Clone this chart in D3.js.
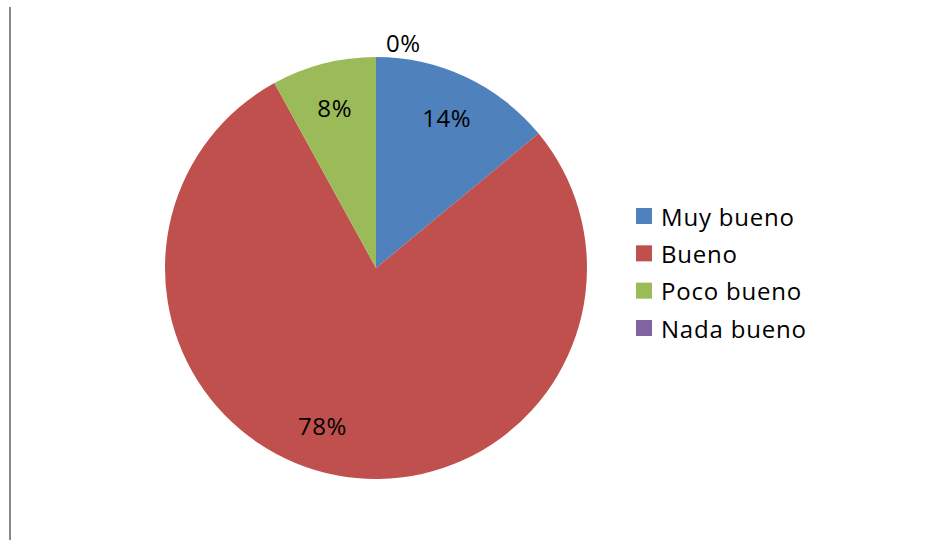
<!DOCTYPE html>
<html>
<head>
<meta charset="utf-8">
<script src="https://cdn.jsdelivr.net/npm/d3@7"></script>
<style>
  body { margin: 0; background: #fff; }
  svg { display: block; font-family: "Open Sans", "Noto Sans", sans-serif; }
</style>
</head>
<body>
<svg id="chart" width="941" height="540"></svg>
<script>
// categories and counts (percent shown on slices)
const categories = ["Muy bueno", "Bueno", "Poco bueno", "Nada bueno"];
const counts = [7, 39, 4, 0];
const colors = ["#4F81BD", "#C0504D", "#9BBB59", "#8064A2"];

const width = 941, height = 540;
const cx = 376, cy = 268, radius = 211;

const svg = d3.select("#chart");

// left frame line
svg.append("line")
    .attr("x1", 10).attr("x2", 10)
    .attr("y1", 7).attr("y2", height)
    .attr("stroke", "#888")
    .attr("stroke-width", 2);

const data = categories.map((c, i) => ({ name: c, value: counts[i] }));
const total = d3.sum(counts);

const pie = d3.pie().sort(null).value(d => d.value);
const arcs = pie(data);

const color = d3.scaleOrdinal().domain(categories).range(colors);

const arc = d3.arc().innerRadius(0).outerRadius(radius);
const labelArc = d3.arc().innerRadius(166).outerRadius(166);

const g = svg.append("g").attr("transform", `translate(${cx},${cy})`);

g.selectAll("path.slice")
    .data(arcs)
    .join("path")
    .attr("class", "slice")
    .attr("d", arc)
    .attr("fill", d => color(d.data.name));

const fmt = d => Math.round(d.value / total * 100) + "%";

g.selectAll("text.lbl")
    .data(arcs)
    .join("text")
    .attr("class", "lbl")
    .attr("font-size", 24)
    .attr("letter-spacing", 0.6)
    .attr("fill", "#000")
    .attr("dominant-baseline", "central")
    .attr("text-anchor", d => d.value === 0 ? "start" : "middle")
    .attr("transform", d => {
        if (d.value === 0) {
            // empty slice: label sits just outside the rim
            return `translate(10, ${-radius - 15})`;
        }
        let a = (d.startAngle + d.endAngle) / 2;
        // big slice: best-fit label leans away from the centre line
        if (d.endAngle - d.startAngle > Math.PI) a += 0.14;
        const p = labelArc.centroid({ startAngle: a, endAngle: a });
        return `translate(${p[0]},${p[1]})`;
    })
    .text(fmt);

// legend
const legendY = d3.scalePoint()
    .domain(categories)
    .range([216, 328]);

const legend = svg.append("g").attr("transform", "translate(636,0)");

const item = legend.selectAll("g")
    .data(categories)
    .join("g")
    .attr("transform", d => `translate(0,${legendY(d)})`);

item.append("rect")
    .attr("x", 0).attr("y", -8)
    .attr("width", 16).attr("height", 16)
    .attr("fill", d => color(d));

item.append("text")
    .attr("x", 25)
    .attr("y", 0)
    .attr("dominant-baseline", "central")
    .attr("font-size", 24)
    .attr("letter-spacing", 0.8)
    .attr("fill", "#000")
    .text(d => d);
</script>
</body>
</html>
